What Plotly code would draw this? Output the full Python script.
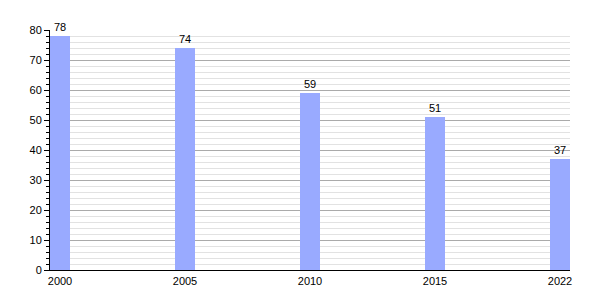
import plotly.graph_objects as go

years = ["2000", "2005", "2010", "2015", "2022"]
values = [78, 74, 59, 51, 37]

fig = go.Figure(go.Bar(
    x=years, y=values,
    width=0.16,
    marker=dict(color="#99aaff", line=dict(width=0)),
    text=[str(v) for v in values],
    textposition="outside",
    textfont=dict(family="Liberation Sans, Arial", size=11, color="black"),
    cliponaxis=False,
))

fig.update_layout(
    template="none",
    width=600, height=300,
    margin=dict(l=50, r=30, t=30, b=30),
    plot_bgcolor="white", paper_bgcolor="white",
    showlegend=False,
    font=dict(family="Liberation Sans, Arial", size=11, color="black"),
    bargap=0,
)
fig.update_xaxes(
    type="category",
    range=[-0.08, 4.08],
    showline=True, linecolor="black", linewidth=1,
    showgrid=False, ticks="", ticklabelstandoff=1,
    tickfont=dict(size=11, color="black"),
)
fig.update_yaxes(
    range=[0, 80], dtick=10,
    showline=True, linecolor="black", linewidth=1,
    showgrid=True, gridcolor="#aaaaaa", gridwidth=1,
    ticks="outside", ticklen=5, tickcolor="black", tickwidth=1,
    zeroline=False,
    minor=dict(dtick=2, showgrid=True, gridcolor="#e2e2e2", gridwidth=1,
               ticks="outside", ticklen=3, tickcolor="black", tickwidth=1),
    tickfont=dict(size=11, color="black"),
)

fig.write_html("out.html")
